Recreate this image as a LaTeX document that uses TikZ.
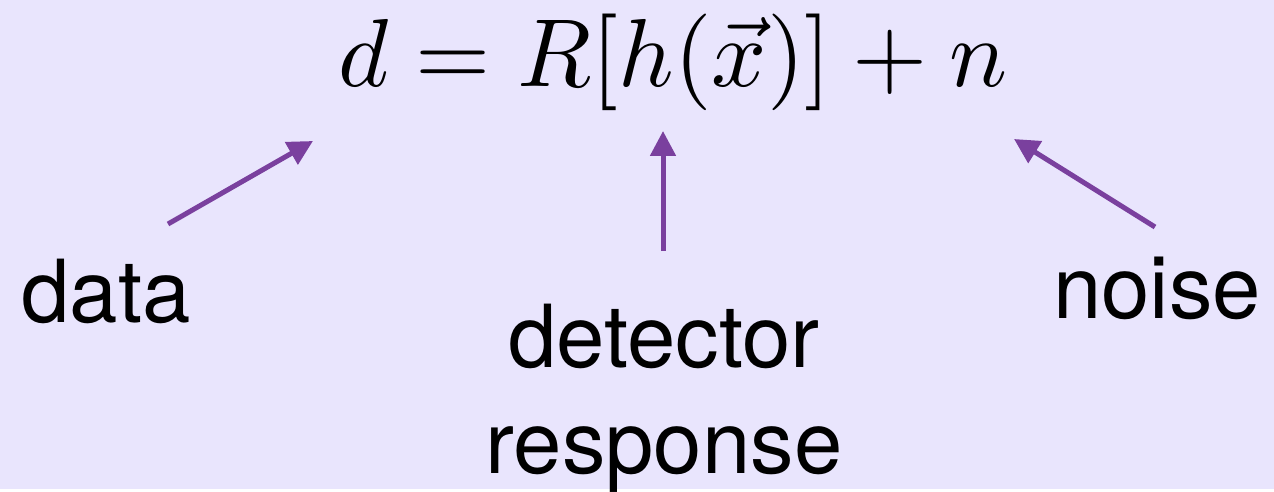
\documentclass[tikz,border=0pt]{standalone}
\usepackage{graphicx}
\usepackage{fontspec}
\newfontfamily\wordfont{TeX Gyre Heros}
\usetikzlibrary{arrows.meta}
\definecolor{lavender}{RGB}{233,229,253}
\definecolor{arrowpurple}{RGB}{122,64,158}

\begin{document}
\begin{tikzpicture}[
    x=0.02cm, y=-0.02cm,
    word/.style={inner sep=0, anchor=base, align=center, font=\wordfont\fontsize{49.5}{60}\selectfont},
    formula/.style={inner sep=0, anchor=base},
    arrow/.style={-{Triangle[length=0.5cm, width=0.5cm]}, line width=0.1cm, arrowpurple}
]
    \fill[lavender] (0,0) rectangle (1274,489);

    \node[formula] (eq) at (673,87) {\scalebox{5.5}{$d = R[h(\vec{x})] + n$}};

    \node[word] (data) at (106,322) {data};
    \node[word] (resp) at (664,473) {detector\\response};
    \node[word] (noise) at (1157,318) {noise};

    \coordinate (datafoot) at (168,224);
    \coordinate (datahead) at (313,141);
    \coordinate (respfoot) at (663,251);
    \coordinate (resphead) at (663,131);
    \coordinate (noisefoot) at (1155,227);
    \coordinate (noisehead) at (1014,139);

    \draw[arrow] (datafoot) -- (datahead);
    \draw[arrow] (respfoot) -- (resphead);
    \draw[arrow] (noisefoot) -- (noisehead);
\end{tikzpicture}
\end{document}
